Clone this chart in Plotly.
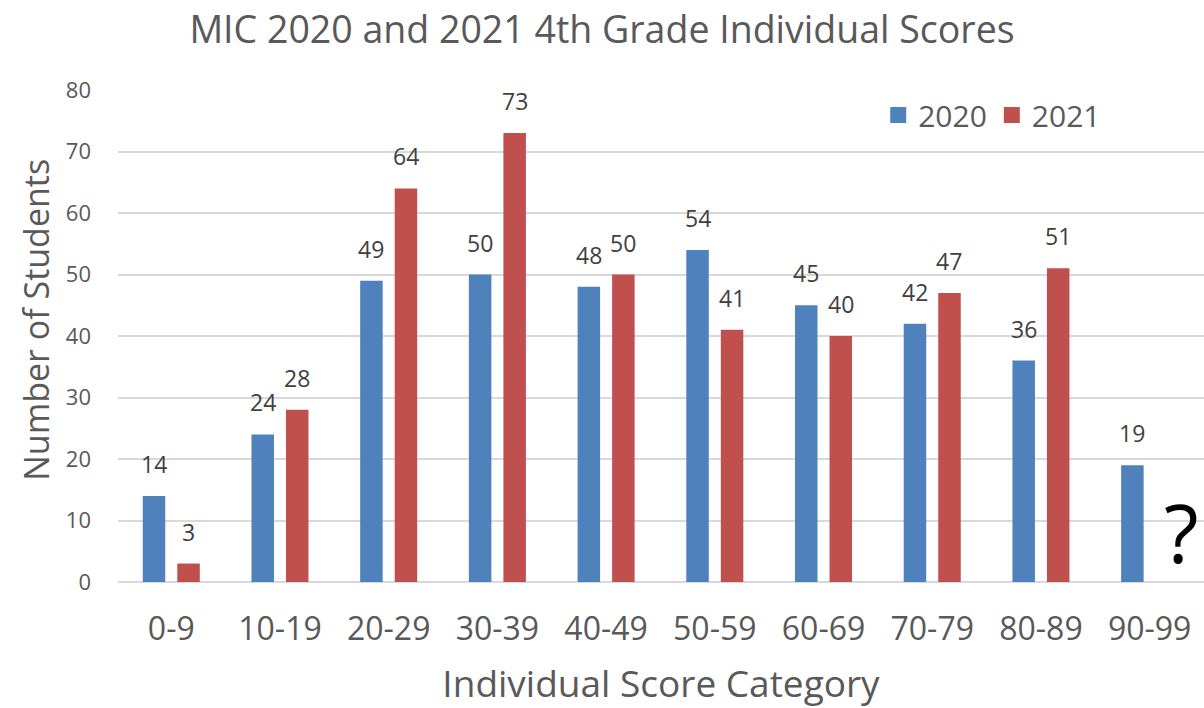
import plotly.graph_objects as go

categories = ["0-9", "10-19", "20-29", "30-39", "40-49", "50-59", "60-69", "70-79", "80-89", "90-99"]
scores_2020 = [14, 24, 49, 50, 48, 54, 45, 42, 36, 19]
scores_2021 = [3, 28, 64, 73, 50, 41, 40, 47, 51, None]
series_names = ["2020", "2021"]
y_ticks = [0, 10, 20, 30, 40, 50, 60, 70, 80]

FONT = "Open Sans, Lato, sans-serif"
GRAY = "#595959"
BLUE = "#4F81BD"
RED = "#C0504D"
BARGAP = 0.365
BARGROUPGAP = 0.348

fig = go.Figure()
series = [(series_names[0], scores_2020, BLUE), (series_names[1], scores_2021, RED)]
for k, (name, vals, col) in enumerate(series):
    fig.add_trace(go.Bar(
        x=categories, y=vals, name=name, showlegend=False,
        marker=dict(color=col, line=dict(width=0)),
    ))
    # legend proxy with larger square swatch
    fig.add_trace(go.Scatter(
        x=[None], y=[None], mode="markers", name=name,
        marker=dict(symbol="square", size=20, color=col),
    ))

# value labels above bars
slot = (1 - BARGAP) / 2
for k, (name, vals, col) in enumerate(series):
    off = (k - 0.5) * slot
    for i, v in enumerate(vals):
        if v is None:
            continue
        fig.add_annotation(x=i + off, y=v, xref="x", yref="y", text=str(v),
                           showarrow=False, yanchor="bottom", yshift=14,
                           font=dict(family=FONT, size=23, color="#404040"))

fig.add_annotation(x=9.29, y=8.2, xref="x", yref="y", text="?", showarrow=False,
                   font=dict(family=FONT, size=80, color="black"))

# y-axis title placed as rotated annotation
fig.add_annotation(x=-0.0755, y=0.533, xref="paper", yref="paper", text="Number of Students",
                   textangle=-90, showarrow=False, xanchor="center", yanchor="middle",
                   font=dict(family=FONT, size=34, color=GRAY))

fig.update_layout(
    width=1204, height=708,
    paper_bgcolor="white", plot_bgcolor="white",
    margin=dict(l=118, r=0, t=90, b=126, autoexpand=False),
    barmode="group", bargap=BARGAP, bargroupgap=BARGROUPGAP,
    title=dict(text="MIC 2020 and 2021 4th Grade Individual Scores",
               font=dict(family=FONT, size=37.5, color=GRAY),
               x=0.5, xref="container", xanchor="center", y=0.958, yanchor="middle"),
    legend=dict(orientation="h", x=0.70, y=1.002, xanchor="left", yanchor="top",
                font=dict(family=FONT, size=30, color=GRAY),
                bgcolor="rgba(0,0,0,0)"),
    showlegend=True,
)
fig.update_xaxes(
    type="category",
    range=[-0.49, 9.5], showgrid=False, showline=False, zeroline=False,
    ticks="", tickfont=dict(family=FONT, size=32, color=GRAY), ticklabelstandoff=25,
    title=dict(text="Individual Score Category", font=dict(family=FONT, size=37, color=GRAY), standoff=28),
    fixedrange=True,
)
fig.update_yaxes(
    range=[0, 80], tickvals=y_ticks, showgrid=True, gridcolor="#D9D9D9", gridwidth=1.5,
    zeroline=True, zerolinecolor="#D9D9D9", zerolinewidth=1.5, showline=False,
    ticks="", tickfont=dict(family=FONT, size=22, color=GRAY), ticklabelstandoff=26,
    fixedrange=True,
)

fig.write_html("out.html", config={"displayModeBar": False},
               post_script="document.body.style.margin='0';document.body.style.overflow='hidden';")
